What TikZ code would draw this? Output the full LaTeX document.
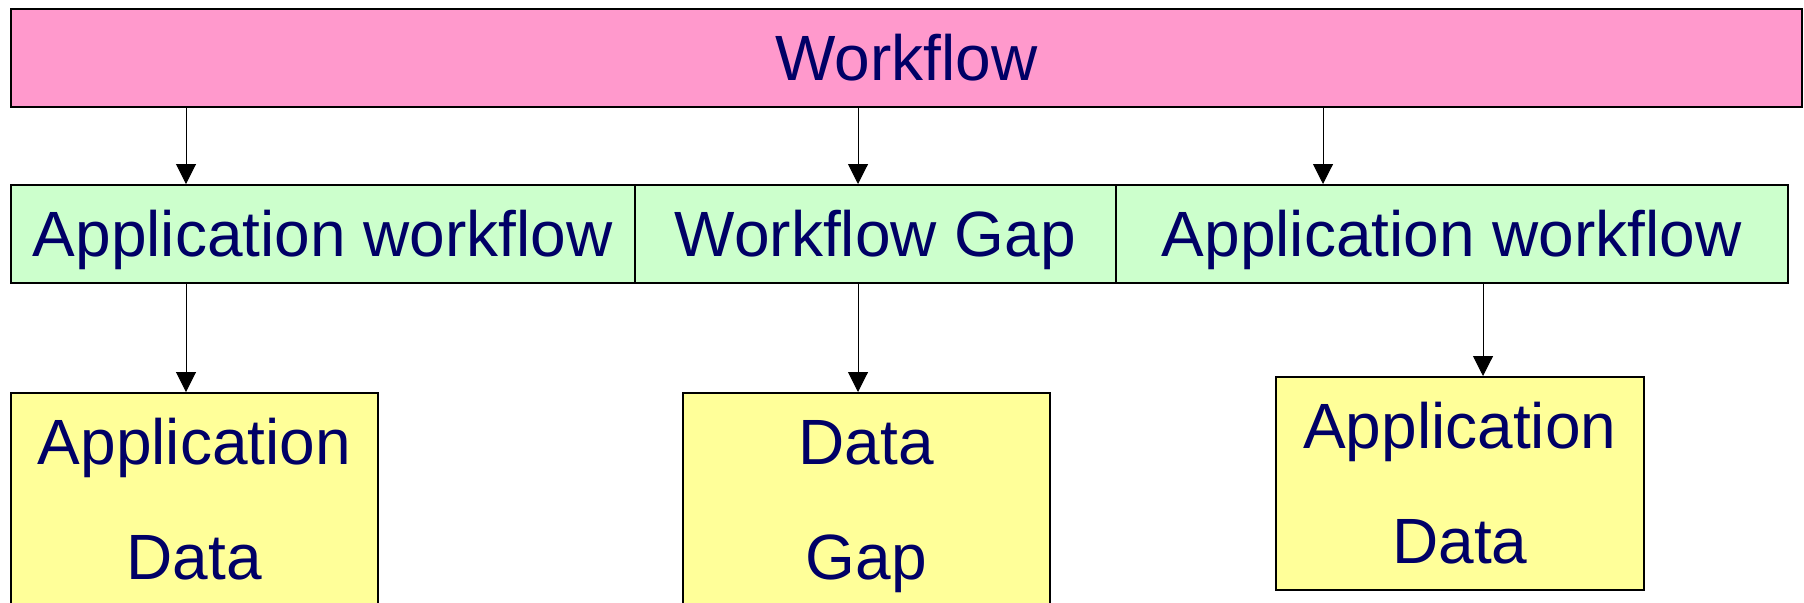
\documentclass[tikz,border=0pt]{standalone}
\usepackage{fontspec}
\setmainfont{Liberation Sans}
\usetikzlibrary{arrows.meta}

\definecolor{flowpink}{HTML}{FF99CC}
\definecolor{appgreen}{HTML}{CCFFCC}
\definecolor{datayellow}{HTML}{FFFF99}
\definecolor{navy}{HTML}{000066}

\begin{document}
\begin{tikzpicture}[
  x=0.5pt,y=-0.5pt,
  box/.style={rectangle,draw=black,line width=0.8pt,inner sep=0pt,anchor=north west,
    font=\fontsize{32}{38}\selectfont,text=navy,text height=22.9pt,text depth=0pt,
    minimum height=49pt},
  flow/.style={box,fill=flowpink},
  app/.style={box,fill=appgreen},
  data/.style={box,fill=datayellow,minimum width=183.5pt,minimum height=106.5pt},
  datatext/.style={anchor=base,inner sep=0pt,font=\fontsize{32}{38}\selectfont,text=navy},
  arr/.style={-{Triangle[width=10pt,length=10pt]},line width=0.5pt}
]

\useasboundingbox (0,0) rectangle (1804,602);
\fill[white] (0,0) rectangle (1804,602);

\node[flow,minimum width=895.5pt] (wf) at (10,8) {Workflow};

\node[app,minimum width=312pt] (aw1) at (10,184) {Application workflow};
\node[app,minimum width=240.5pt] (gap) at (634,184) {Workflow Gap};
\node[app,minimum width=336pt] (aw2) at (1115,184) {Application workflow};

\node[data] (ad1) at (10,392) {};
\node[data] (dg) at (682,392) {};
\node[data,minimum width=184pt] (ad2) at (1275,376) {};

\foreach \b/\t/\n in {ad1/Application/Data,dg/Data/Gap,ad2/Application/Data} {
  \node[datatext] (\b-1) at ([yshift=-36pt]\b.north) {\t};
  \node[datatext] (\b-2) at ([yshift=-93.5pt]\b.north) {\n};
}

% arrow ends
\coordinate (p1) at (186,184);
\coordinate (p2) at (858,184);
\coordinate (p3) at (1323,184);
\coordinate (q1) at (186,392);
\coordinate (q2) at (858,392);
\coordinate (q3) at (1483,376);

\foreach \c in {p1,p2,p3} \draw[arr] (wf.south -| \c) -- (\c);
\draw[arr] (aw1.south -| q1) -- (q1);
\draw[arr] (gap.south -| q2) -- (q2);
\draw[arr] (aw2.south -| q3) -- (q3);

\end{tikzpicture}
\end{document}
